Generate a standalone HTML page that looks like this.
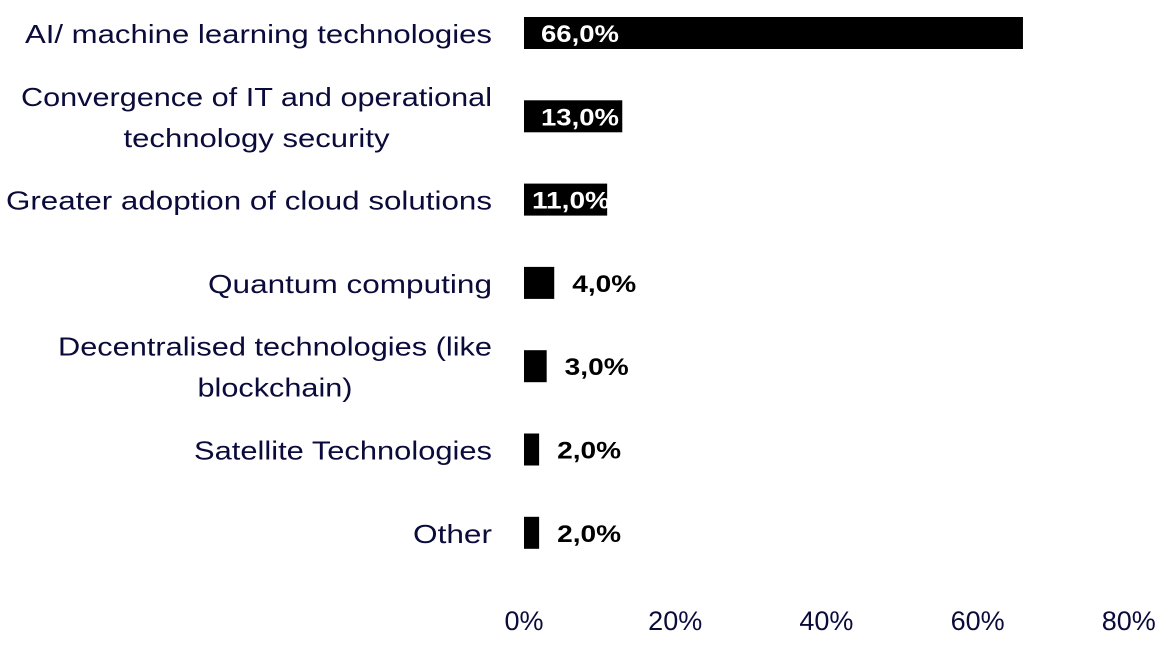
<!DOCTYPE html>
<html><head><meta charset="utf-8"><style>
html,body{margin:0;padding:0;background:#fff;}
svg{display:block;font-family:"Liberation Sans",sans-serif;}
</style></head><body>
<svg id="chart" width="1171" height="656" viewBox="0 0 1171 656"></svg>
<script>
const categories=[["AI/ machine learning technologies"],["Convergence of IT and operational","technology security"],["Greater adoption of cloud solutions"],["Quantum computing"],["Decentralised technologies (like","blockchain)"],["Satellite Technologies"],["Other"]];
const values=[66,13,11,4,3,2,2];
const valueLabels=["66,0%","13,0%","11,0%","4,0%","3,0%","2,0%","2,0%"];
const ticks=[0,20,40,60,80];
const tickLabels=["0%","20%","40%","60%","80%"];
const labelWidths=[[467],[471,266],[486],[284],[434,155],[298],[79]];

const NS="http://www.w3.org/2000/svg";
const svg=document.getElementById("chart");
const x0=524, pxPer=7.56;
function xs(v){return x0+v*pxPer;}
function yc(i){return 33+i*83.3;}
function mk(t,a){const e=document.createElementNS(NS,t);for(const k in a)e.setAttribute(k,a[k]);svg.appendChild(e);return e;}
categories.forEach((lines,i)=>{
  const r=mk("rect",{x:x0,y:yc(i)-16,width:xs(values[i])-x0,height:32,fill:"#000"});
  
  
  const n=lines.length;
  const w0=labelWidths[i][0];
  lines.forEach((ln,j)=>{
    const y=yc(i)+10+(j-(n-1)/2)*41;
    const w=labelWidths[i][j];
    const attrs=j===0?{x:492,"text-anchor":"end"}:{x:492-w0/2,"text-anchor":"middle"};
    Object.assign(attrs,{y:y,"font-size":26,fill:"#0b0b3b",textLength:w,lengthAdjust:"spacingAndGlyphs"});
    const t=mk("text",attrs);
    t.textContent=ln;
    
    
  });
  const inside=values[i]>=10;
  const lx=inside?x0+(values[i]<12?8:17):xs(values[i])+18;
  const v=mk("text",{x:lx,y:yc(i)+9,"font-size":24,"font-weight":"bold",fill:inside?"#fff":"#000",textLength:inside?78:64,lengthAdjust:"spacingAndGlyphs"});
  v.textContent=valueLabels[i];
  
  
});
ticks.forEach((t,i)=>{
  const e=mk("text",{x:xs(t),y:630,"text-anchor":"middle","font-size":27,fill:"#0b0b3b"});
  e.textContent=tickLabels[i];
  
  
});
</script>
</body></html>
